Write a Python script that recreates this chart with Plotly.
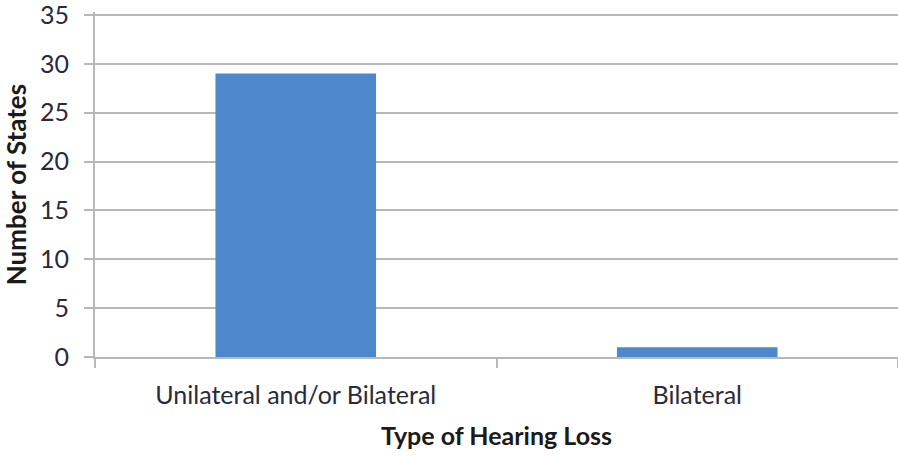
import plotly.graph_objects as go

categories = ["Unilateral and/or Bilateral", "Bilateral"]
states = [29, 1]
y_ticks = [0, 5, 10, 15, 20, 25, 30, 35]

fig = go.Figure()
fig.add_trace(go.Bar(
    x=categories, y=states, width=0.4,
    marker=dict(color="#4d88ca", line=dict(width=0)),
))

grid = "#b8b8b8"
fig.update_layout(
    width=898, height=450,
    margin=dict(l=95, r=0, t=12, b=93),
    paper_bgcolor="white", plot_bgcolor="white",
    showlegend=False,
    font=dict(family="Lato, Open Sans, sans-serif", color="#222"),
    xaxis=dict(
        title=dict(text="<b>Type of Hearing Loss</b>", font=dict(size=25, color="#1a1a1a"), standoff=24),
        tickfont=dict(size=25, color="#2a2a3a"),
        showline=True, linecolor=grid, linewidth=2,
        ticks="outside", tickson="boundaries", ticklen=9, tickcolor=grid, tickwidth=2,
        ticklabelstandoff=15, automargin=False,
        showgrid=False, range=[-0.5, 1.5],
    ),
    yaxis=dict(
        title=dict(text="<b>Number of States</b>", font=dict(size=26, color="#1a1a1a"), standoff=11),
        tickfont=dict(size=25, color="#2a2a3a"),
        range=[0, 35.3], tickvals=y_ticks,
        showline=True, linecolor=grid, linewidth=2,
        ticks="outside", ticklen=9, tickcolor=grid, tickwidth=2,
        ticklabelstandoff=10, ticklabeloverflow="allow", automargin=False,
        showgrid=True, gridcolor=grid, gridwidth=2,
        zeroline=False,
    ),
)

fig.write_html(
    "out.html",
    config={"displayModeBar": False},
    post_script="document.body.style.margin='0';document.body.style.overflow='hidden';"
                "document.documentElement.style.overflow='hidden';",
)
